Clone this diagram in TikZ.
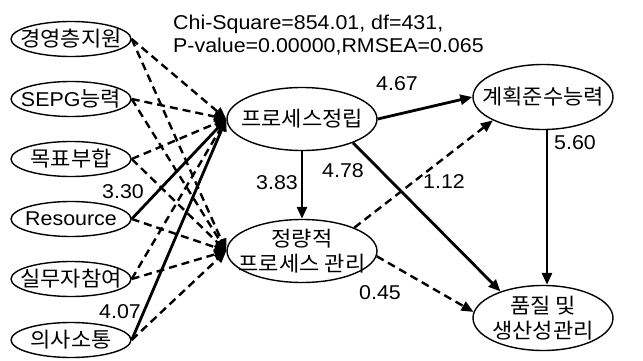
\documentclass[tikz,border=0pt]{standalone}
\usepackage{fontspec}
\setmainfont{Liberation Sans}[FakeStretch=1.07]
\newfontfamily\kr{Noto Sans CJK KR}[FakeStretch=1.05]
\usetikzlibrary{arrows.meta,shapes.geometric}
\begin{document}
\begin{tikzpicture}[x=1pt,y=-1pt,
  txt/.style={inner sep=0pt, align=center, font=\kr\fontsize{21}{25}\selectfont},
  ell/.style={draw, ellipse, line width=1.4pt, inner sep=0pt},
  small/.style={ell, minimum width=120pt, minimum height=35pt},
  big/.style={ell, minimum width=150pt, minimum height=63pt},
  right/.style={ell, minimum width=140pt, minimum height=65pt},
  lab/.style={font=\fontsize{20}{24}\selectfont, inner sep=0pt},
  sol/.style={line width=2.8pt, -{Triangle[length=12pt,width=10pt]}},
  das/.style={line width=2.4pt, dash pattern=on 8pt off 5pt, -{Triangle[length=12pt,width=10pt]}},
]
\useasboundingbox (0,0) rectangle (643,361);

% left column
\node[small, label={[txt]center:경영층지원}] (a1) at (71,39) {};
\node[small, label={[txt]center:{\rmfamily\fontsize{20}{24}\selectfont SEPG}능력}] (a2) at (71,99) {};
\node[small, label={[txt]center:목표부합}] (a3) at (71,159) {};
\node[small, label={[txt]center:{\rmfamily\fontsize{20}{24}\selectfont Resource}}] (a4) at (71,219) {};
\node[small, label={[txt]center:실무자참여}] (a5) at (71,279) {};
\node[small, label={[txt]center:의사소통}] (a6) at (71,340) {};

% main constructs
\node[big, label={[txt]center:프로세스정립}] (jr) at (302,119) {};
\node[big, label={[txt]center:정량적\\프로세스 관리}] (jl) at (302,251) {};
\node[right, label={[txt]center:계획준수능력}] (gh) at (543,97) {};
\node[right, label={[txt]center:품질 및\\생산성관리}] (pj) at (543,318) {};

% fit statistics
\node[lab, anchor=base west] (fit1) at (173,30) {Chi-Square=854.01, df=431,};
\node[lab, anchor=base west] (fit2) at (173,53) {P-value=0.00000,RMSEA=0.065};

% dashed paths from left column
\foreach \s in {a1,a2,a3,a5}{
  \draw[das] (\s.east) -- (jr.west);
}
\foreach \s in {a1,a2,a3,a4,a5,a6}{
  \draw[das] (\s.east) -- (jl.west);
}
\draw[sol] (a4.east) -- (jr.west);
\draw[sol] (a6.east) -- (jr.west);

% structural paths
\draw[sol] (jr.south) -- (jl.north);
\draw[sol] (jr.east) -- (gh.west);
\draw[sol] (jr.-25) -- (pj.148);
\draw[das] (jl.24) -- (gh.205);
\draw[das] (jl.-4) -- (pj.175);
\draw[sol] ([xshift=4pt]gh.south) -- ([xshift=4pt]pj.north);

% coefficients
\node[lab] (l467) at (397,84)  {4.67};
\node[lab] (l383) at (277,183) {3.83};
\node[lab] (l478) at (343,171) {4.78};
\node[lab] (l112) at (444,182) {1.12};
\node[lab] (l560) at (575,143) {5.60};
\node[lab] (l045) at (380,293) {0.45};
\node[lab] (l330) at (123,192) {3.30};
\node[lab] (l407) at (120,312) {4.07};
\end{tikzpicture}
\end{document}
